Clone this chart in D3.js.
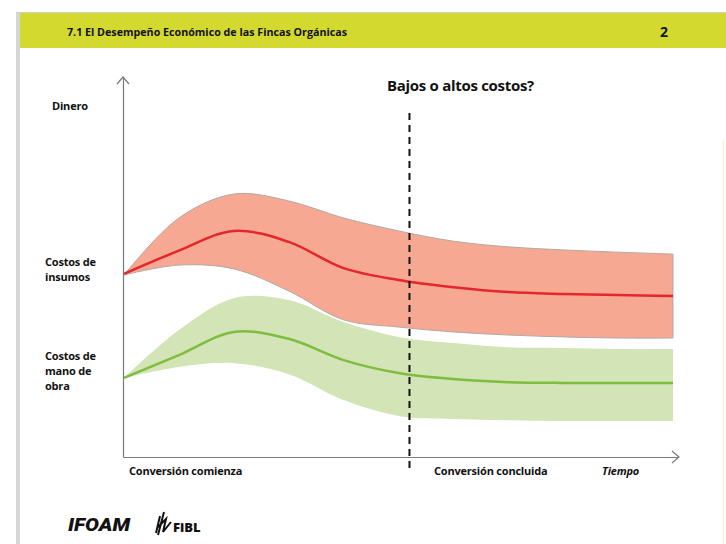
<!DOCTYPE html>
<html>
<head>
<meta charset="utf-8">
<script src="https://cdn.jsdelivr.net/npm/d3@7"></script>
<style>
  html, body { margin: 0; padding: 0; background: #fff; }
  svg { display: block; font-family: 'Open Sans', 'DejaVu Sans', sans-serif; }
  .lbl { font-weight: 700; font-size: 11px; fill: #111; letter-spacing: -0.2px; }
</style>
</head>
<body>
<svg id="chart" width="726" height="544"></svg>
<script>
(function (d3) {
  'use strict'
  // data [[[1
  // tiempo (0 = comienza la conversión)
  const time = [0, 10, 20, 30, 40, 50, 60, 70, 80, 90, 100]

  // costos de insumos (banda + línea media)
  const insumosHigh = [47.9, 62.9, 69.2, 67.4, 62.9, 59.5, 56.8, 55.3, 54.5, 53.9, 53.4]
  const insumosMid  = [48.2, 54.3, 59.5, 56.6, 49.7, 46.6, 44.7, 43.4, 42.9, 42.6, 42.4]
  const insumosLow  = [47.9, 50.5, 49.5, 43.7, 36.1, 34.2, 32.9, 32.1, 31.6, 31.3, 31.3]

  // costos de mano de obra
  const manoHigh = [20.8, 33.4, 41.8, 41.3, 35.5, 31.6, 30.0, 28.9, 28.7, 28.4, 28.4]
  const manoMid  = [20.8, 26.8, 32.9, 31.1, 25.5, 22.1, 20.5, 19.7, 19.5, 19.5, 19.5]
  const manoLow  = [20.8, 23.7, 24.7, 21.8, 15.0, 10.8, 10.0,  9.7,  9.5,  9.5,  9.5]

  // fin de la conversión
  const conversionEnd = 52

  const svg = d3.select('#chart')

  // slide frame [[[1
  svg.append('rect').attr('x', 16).attr('y', 12).attr('width', 710).attr('height', 532)
    .attr('fill', '#fff')
  svg.append('rect').attr('x', 16).attr('y', 12).attr('width', 4).attr('height', 532)
    .attr('fill', '#d6d6d6')
  svg.append('line').attr('x1', 16).attr('x2', 726).attr('y1', 12.5).attr('y2', 12.5)
    .attr('stroke', '#cfcfcf')
  svg.append('rect').attr('x', 20).attr('y', 13).attr('width', 706).attr('height', 35)
    .attr('fill', '#d3d92e')
  svg.append('text').attr('x', 67).attr('y', 36)
    .attr('font-size', 11).attr('font-weight', 700).attr('fill', '#111')
    .attr('textLength', 280).attr('lengthAdjust', 'spacingAndGlyphs')
    .text('7.1 El Desempeño Económico de las Fincas Orgánicas')
  svg.append('text').attr('x', 660).attr('y', 37)
    .attr('font-size', 14).attr('font-weight', 700).attr('fill', '#111')
    .text('2')
  // faint guide on the right edge
  svg.append('line').attr('x1', 723.5).attr('x2', 723.5).attr('y1', 140).attr('y2', 544)
    .attr('stroke', '#f8f1c8')

  // scales [[[1
  const x = d3.scaleLinear().domain([0, 100]).range([124, 673])
  const y = d3.scaleLinear().domain([0, 100]).range([457, 77])

  const rows = (hi, mid, lo) => time.map((t, i) => ({ t: t, hi: hi[i], mid: mid[i], lo: lo[i] }))

  const curve = d3.curveCatmullRom.alpha(0.5)
  const area = d3.area()
    .x(d => x(d.t)).y0(d => y(d.lo)).y1(d => y(d.hi))
    .curve(curve)
  const line = d3.line()
    .x(d => x(d.t)).y(d => y(d.mid))
    .curve(curve)

  // bands [[[1
  const insumos = rows(insumosHigh, insumosMid, insumosLow)
  const mano = rows(manoHigh, manoMid, manoLow)

  svg.append('path').datum(insumos).attr('d', area)
    .attr('fill', '#f6a892').attr('stroke', '#b3a8a4').attr('stroke-width', 1)
  svg.append('path').datum(mano).attr('d', area)
    .attr('fill', '#d3e4b6')

  svg.append('path').datum(insumos).attr('d', line)
    .attr('fill', 'none').attr('stroke', '#e5262d').attr('stroke-width', 2.5)
  svg.append('path').datum(mano).attr('d', line)
    .attr('fill', 'none').attr('stroke', '#7dbd3f').attr('stroke-width', 2.5)

  // axes [[[1
  const yAxis = svg.append('g').attr('transform', 'translate(' + (x(0) - 1) + ',0)')
    .call(d3.axisLeft(y).ticks(0).tickSizeOuter(0))
  const xAxis = svg.append('g').attr('transform', 'translate(0,' + y(0) + ')')
    .call(d3.axisBottom(x.copy().range([123, 678])).ticks(0).tickSizeOuter(0))
  ;[yAxis, xAxis].forEach(g => g.select('.domain').attr('stroke', '#7a7a7a').attr('stroke-width', 1.2))

  // open arrow heads
  svg.append('path').attr('d', 'M117,84 L123,77 L129,84')
    .attr('fill', 'none').attr('stroke', '#7a7a7a').attr('stroke-width', 1.2)
  svg.append('path').attr('d', 'M672,451 L679,457 L672,463')
    .attr('fill', 'none').attr('stroke', '#7a7a7a').attr('stroke-width', 1.2)

  // dashed marker: end of conversion
  svg.append('line')
    .attr('x1', x(conversionEnd)).attr('x2', x(conversionEnd))
    .attr('y1', 113).attr('y2', 473)
    .attr('stroke', '#111').attr('stroke-width', 2).attr('stroke-dasharray', '7,5')

  // labels [[[1
  const label = (tx, ty, lines, cls) => {
    const t = svg.append('text').attr('class', cls || 'lbl').attr('x', tx).attr('y', ty)
    lines.forEach((s, i) => t.append('tspan').attr('x', tx).attr('dy', i ? 15 : 0).text(s))
    return t
  }

  label(52, 110, ['Dinero'])
  label(45, 266, ['Costos de', 'insumos'])
  label(45, 360, ['Costos de', 'mano de', 'obra'])
  label(129, 475, ['Conversión comienza'])
  label(434, 475, ['Conversión concluida'])
  label(602, 475, ['Tiempo']).attr('font-style', 'italic')
  label(387, 91, ['Bajos o altos costos?']).style('font-size', '15px').style('letter-spacing', '-0.3px')

  // logos [[[1
  svg.append('text').attr('x', 68).attr('y', 531)
    .attr('font-size', 19).attr('font-weight', 900).attr('font-style', 'italic')
    .attr('fill', '#111').attr('textLength', 62).attr('lengthAdjust', 'spacingAndGlyphs')
    .style('font-family', 'Roboto, sans-serif')
    .text('IFOAM')
  svg.append('path')
    .attr('d', 'M160,516 L156,533 M164,512 L158,535 M158,527 L166,519 L163,532 L171,522')
    .attr('fill', 'none').attr('stroke', '#111').attr('stroke-width', 2)
  svg.append('text').attr('x', 173).attr('y', 532)
    .attr('font-size', 13).attr('font-weight', 800).attr('fill', '#111')
    .text('FiBL')

}(d3))
</script>
</body>
</html>
